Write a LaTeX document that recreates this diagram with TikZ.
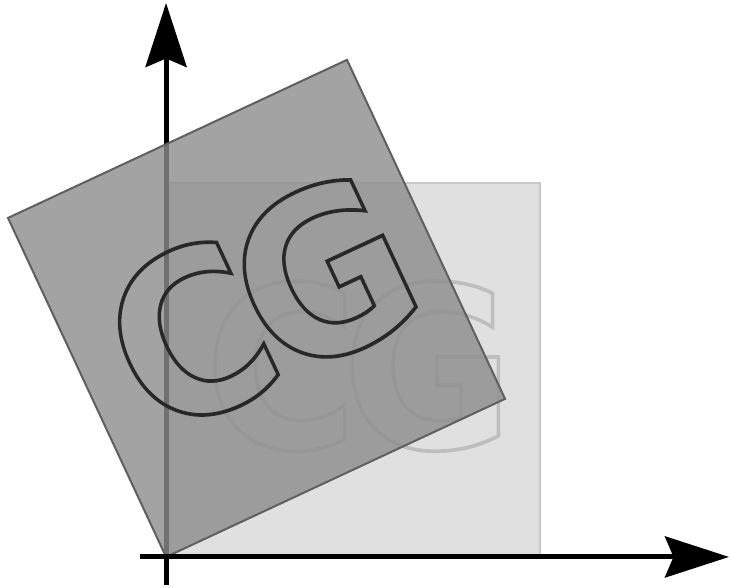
\documentclass[tikz,border=0pt]{standalone}
\usepackage{fontspec}
\usetikzlibrary{arrows.meta}
\newfontfamily\cgfont{DejaVu Sans}
\definecolor{pagelight}{RGB}{224,224,224}
\definecolor{pageedge}{RGB}{200,200,200}
\definecolor{turnfill}{RGB}{140,140,140}
\definecolor{turnedge}{RGB}{95,95,95}
\definecolor{inkdark}{RGB}{40,40,40}
\definecolor{inklight}{RGB}{190,190,190}
% outlined letters: stroke only, no fill
\newcommand{\cgoutline}[1]{\special{pdf:literal direct 1 Tr 2.1 w}#1\special{pdf:literal direct 0 Tr}}

\begin{document}
\begin{tikzpicture}[x=7.48cm, y=7.48cm,
    axis/.style={line width=0.1cm, -{Stealth[length=1.28cm, width=0.82cm, inset=0.17cm]}},
    cgtext/.style={inner sep=0pt, xscale=0.93, font=\cgfont\bfseries\fontsize{128}{128}\selectfont}]
  \useasboundingbox (-0.444,-0.083) rectangle (1.513,1.489);

  % page before the turn
  \filldraw[fill=pagelight, draw=pageedge, line width=0.04cm] (0,0) rectangle (1,1);
  \node[cgtext, inklight] (cgflat) at (0.516,0.51) {\cgoutline{C\kern-0.35cm G}};

  % y axis, seen through the turned page
  \coordinate (ybot) at (0,-0.075);
  \coordinate (ytop) at (0,1.481);
  \draw[axis] (ybot) -- (ytop);

  % page turned by 25 degrees about the origin
  \begin{scope}[rotate=25, transform shape]
    \filldraw[fill=turnfill, fill opacity=0.8, draw=turnedge, line width=0.04cm] (0,0) rectangle (1,1);
    \node[cgtext, inkdark] (cgturn) at (0.516,0.51) {\cgoutline{C\kern-0.35cm G}};
  \end{scope}

  % x axis
  \coordinate (xleft) at (-0.07,0);
  \coordinate (xright) at (1.505,0);
  \draw[axis] (xleft) -- (xright);
\end{tikzpicture}
\end{document}
